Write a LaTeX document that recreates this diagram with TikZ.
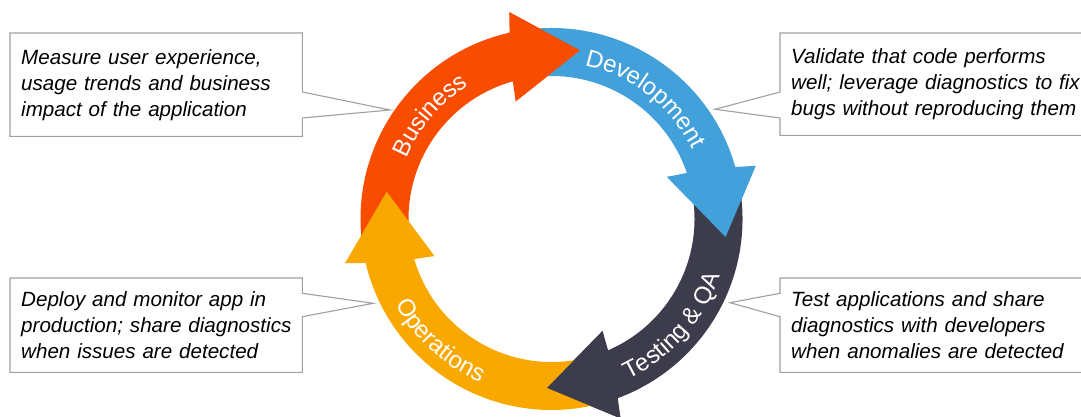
\documentclass[tikz,border=0pt]{standalone}
\usepackage{fontspec}
\setmainfont{Liberation Sans}
\usetikzlibrary{decorations.text,calc,backgrounds}
\definecolor{cbiz}{RGB}{248,76,0}
\definecolor{cdev}{RGB}{66,160,218}
\definecolor{ctest}{RGB}{61,60,76}
\definecolor{cops}{RGB}{249,168,0}
\definecolor{cline}{RGB}{160,160,160}
\newcommand\ringarrow[5]{%
  \fill[#1] (#2:191) arc[start angle=#2, end angle={#3-1.5}, radius=191]
    -- ({#3-2.7}:211) -- (#4:#5) -- ({#3+2.7}:123) -- ({#3+1.5}:143)
    arc[start angle={#3+1.5}, end angle=#2, radius=143] -- cycle;}
\newcommand\ringhead[4]{%
  \fill[#1] ({#2-2.7}:211) -- (#3:#4) -- ({#2+2.7}:123) -- cycle;}
\newcommand\ringfont{\fontsize{24}{28}\selectfont\color{white}}
\newcommand\cln[1]{\mbox{#1}}
\begin{document}
\begin{tikzpicture}[x=1pt,y=1pt,
  callbox/.style={anchor=north west, inner xsep=11pt, inner ysep=4pt,
    align=left, font=\itshape\fontsize{20.6}{26}\selectfont, text=black},
  callline/.style={draw=cline, line width=1.1pt, fill=white, line join=miter},
  ringtext/.style={decorate, decoration={text along path, text align=center}}]
\useasboundingbox (0,0) rectangle (1081,417);
\clip (0,0) rectangle (1081,417);

% callouts
\node[callbox, minimum width=292pt, minimum height=103pt, text width=270pt] (bTL) at (10,384)
  {\cln{Measure user experience,}\\\cln{usage trends and business}\\\cln{impact of the application}};
\coordinate (tTL) at (390,307);
\node[callbox, minimum width=320pt, minimum height=102pt, text width=298pt] (bTR) at (780,384)
  {\cln{Validate that code performs}\\\cln{well; leverage diagnostics to fix}\\\cln{bugs without reproducing them}};
\coordinate (tTR) at (715,307.7);
\node[callbox, minimum width=292pt, minimum height=94pt, text width=270pt] (bBL) at (10,139)
  {\cln{Deploy and monitor app in}\\\cln{production; share diagnostics}\\\cln{when issues are detected}};
\coordinate (tBL) at (373.3,113.7);
\node[callbox, minimum width=320pt, minimum height=94pt, text width=298pt] (bBR) at (780,139)
  {\cln{Test applications and share}\\\cln{diagnostics with developers}\\\cln{when anomalies are detected}};
\coordinate (tBR) at (730,114.3);

\begin{scope}[on background layer]
\draw[callline] (bTL.north west) -- (bTL.north east) -- ($(bTL.north east)+(0,-59)$) -- (tTL)
  -- ($(bTL.north east)+(0,-85)$) -- (bTL.south east) -- (bTL.south west) -- cycle;
\draw[callline] (bTR.north east) -- (bTR.north west) -- ($(bTR.north west)+(0,-59)$) -- (tTR)
  -- ($(bTR.north west)+(0,-85)$) -- (bTR.south west) -- (bTR.south east) -- cycle;
\draw[callline] (bBL.north west) -- (bBL.north east) -- ($(bBL.north east)+(0,-15.3)$) -- (tBL)
  -- ($(bBL.north east)+(0,-38.7)$) -- (bBL.south east) -- (bBL.south west) -- cycle;
\draw[callline] (bBR.north east) -- (bBR.north west) -- ($(bBR.north west)+(0,-15.3)$) -- (tBR)
  -- ($(bBR.north west)+(0,-38.7)$) -- (bBR.south west) -- (bBR.south east) -- cycle;
\end{scope}

% ring
\begin{scope}[shift={(551.5,198)}]
  \ringarrow{cbiz}{188.8}{104.2}{80.4}{171}
  \ringarrow{cdev}{98.2}{17.3}{-5.9}{175}
  \ringarrow{ctest}{11.3}{-68.2}{-91.5}{169}
  \ringarrow{cops}{285.8}{194.8}{170.7}{167}
  \ringhead{cbiz}{104.2}{80.4}{171}
  \ringhead{cdev}{17.3}{-5.9}{175}
  \ringhead{ctest}{-68.2}{-91.5}{169}
  \ringhead{cops}{194.8}{170.7}{167}
  \path[ringtext, decoration={text={|\ringfont|Business}}]
    (189.5:157) arc[start angle=189.5, end angle=89.5, radius=157];
  \path[ringtext, decoration={text={|\ringfont|Development}}]
    (102:157) arc[start angle=102, end angle=2, radius=157];
  \path[ringtext, decoration={text={|\ringfont|Testing {\&} QA}}]
    (-91.6:178) arc[start angle=-91.6, end angle=8.4, radius=178];
  \path[ringtext, decoration={text={|\ringfont|Operations}}]
    (177.5:178) arc[start angle=177.5, end angle=277.5, radius=178];
\end{scope}
\end{tikzpicture}
\end{document}
